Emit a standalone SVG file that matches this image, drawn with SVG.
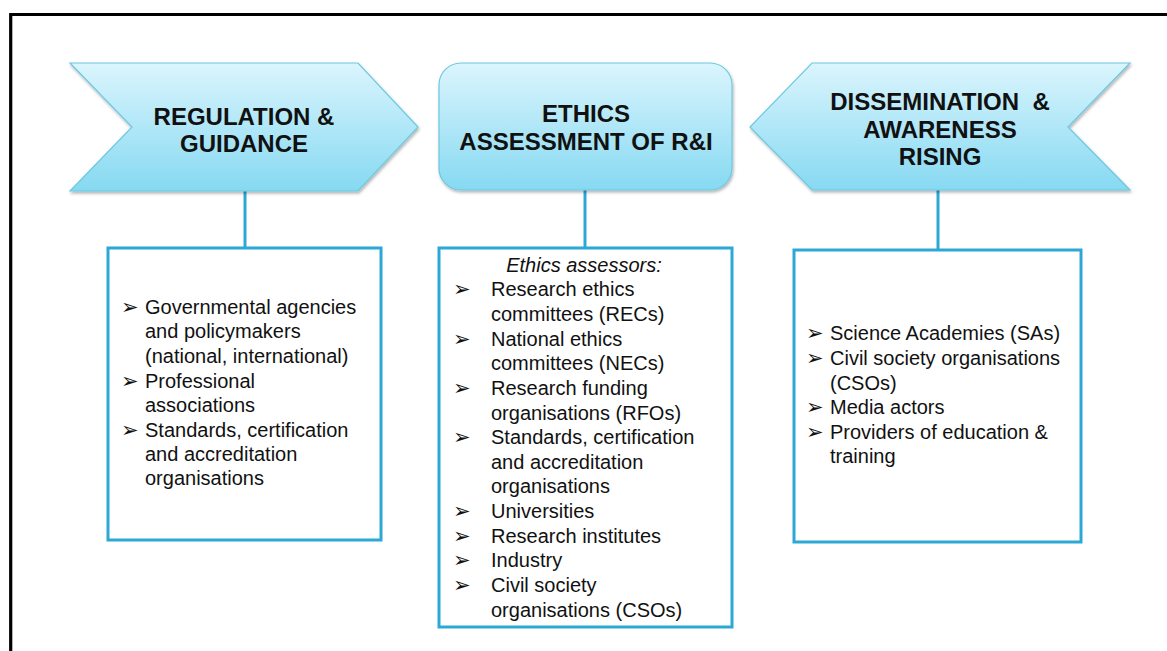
<svg xmlns="http://www.w3.org/2000/svg" width="1167" height="651" viewBox="0 0 1167 651">
<defs>
<linearGradient id="g" x1="0" y1="0" x2="0" y2="1">
<stop offset="0" stop-color="#DBF5FD"/>
<stop offset="1" stop-color="#86D9F2"/>
</linearGradient>
<filter id="sh" x="-10%" y="-10%" width="120%" height="130%">
<feDropShadow dx="1" dy="2" stdDeviation="1.5" flood-color="#000" flood-opacity="0.3"/>
</filter>
</defs>
<style>
.hd{fill:url(#g);stroke:#6CC8E0;stroke-width:1.2;filter:url(#sh)}
.bx{fill:#fff;stroke:#2BA8D6;stroke-width:3}
.ln{stroke:#2BA8D6;stroke-width:3;fill:none}
.t{font-family:"Liberation Sans",Arial,sans-serif;font-weight:bold;font-size:24px;fill:#111;text-anchor:middle}
.b{font-family:"Liberation Sans",Arial,sans-serif;font-size:20px;fill:#111}
.i{font-family:"Liberation Sans",Arial,sans-serif;font-size:20px;font-style:italic;fill:#111;text-anchor:middle}
.k{font-family:"DejaVu Sans",sans-serif;font-size:21px;fill:#111}
</style>
<rect width="1167" height="651" fill="#fff"/>
<path d="M10.7 651 V14.5 H1167" fill="none" stroke="#000" stroke-width="3.2"/>
<g id="connectors">
<line class="ln" x1="245" y1="191" x2="245" y2="248"/>
<line class="ln" x1="585" y1="190" x2="585" y2="248"/>
<line class="ln" x1="938" y1="190" x2="938" y2="251"/>
</g>
<g id="regulation">
<path class="hd" d="M70 63 H358 L418 127 L358 191 H70 L132 127 Z"/>
<text class="t" x="244" y="125">REGULATION &amp;</text>
<text class="t" x="244" y="152">GUIDANCE</text>
</g>
<g id="ethics">
<rect class="hd" x="439" y="63" width="293" height="127" rx="22"/>
<text class="t" x="586" y="122">ETHICS</text>
<text class="t" x="586" y="150">ASSESSMENT OF R&amp;I</text>
</g>
<g id="dissemination">
<path class="hd" d="M812 63 H1130 L1068 127 L1130 190 H812 L750 127 Z"/>
<text class="t" x="940" y="110" xml:space="preserve">DISSEMINATION  &amp;</text>
<text class="t" x="940" y="138">AWARENESS</text>
<text class="t" x="940" y="165">RISING</text>
</g>
<g id="regulation-actors">
<rect class="bx" x="108" y="248" width="273" height="292"/>
<text class="k" x="121" y="314">➢</text>
<text class="b" x="145" y="314">Governmental agencies</text>
<text class="b" x="145" y="338">and policymakers</text>
<text class="b" x="145" y="363">(national, international)</text>
<text class="k" x="121" y="388">➢</text>
<text class="b" x="145" y="388">Professional</text>
<text class="b" x="145" y="412">associations</text>
<text class="k" x="121" y="437">➢</text>
<text class="b" x="145" y="437">Standards, certification</text>
<text class="b" x="145" y="461">and accreditation</text>
<text class="b" x="145" y="485">organisations</text>
</g>
<g id="ethics-assessors">
<rect class="bx" x="439" y="248" width="293" height="379"/>
<text class="i" x="584" y="272">Ethics assessors:</text>
<text class="k" x="453" y="296">➢</text>
<text class="b" x="491" y="296">Research ethics</text>
<text class="b" x="491" y="321">committees (RECs)</text>
<text class="k" x="453" y="346">➢</text>
<text class="b" x="491" y="346">National ethics</text>
<text class="b" x="491" y="370">committees (NECs)</text>
<text class="k" x="453" y="395">➢</text>
<text class="b" x="491" y="395">Research funding</text>
<text class="b" x="491" y="420">organisations (RFOs)</text>
<text class="k" x="453" y="444">➢</text>
<text class="b" x="491" y="444">Standards, certification</text>
<text class="b" x="491" y="469">and accreditation</text>
<text class="b" x="491" y="493">organisations</text>
<text class="k" x="453" y="518">➢</text>
<text class="b" x="491" y="518">Universities</text>
<text class="k" x="453" y="543">➢</text>
<text class="b" x="491" y="543">Research institutes</text>
<text class="k" x="453" y="567">➢</text>
<text class="b" x="491" y="567">Industry</text>
<text class="k" x="453" y="592">➢</text>
<text class="b" x="491" y="592">Civil society</text>
<text class="b" x="491" y="617">organisations (CSOs)</text>
</g>
<g id="dissemination-actors">
<rect class="bx" x="794" y="250" width="287" height="292"/>
<text class="k" x="806" y="340">➢</text>
<text class="b" x="830" y="340">Science Academies (SAs)</text>
<text class="k" x="806" y="365">➢</text>
<text class="b" x="830" y="365">Civil society organisations</text>
<text class="b" x="830" y="390">(CSOs)</text>
<text class="k" x="806" y="414">➢</text>
<text class="b" x="830" y="414">Media actors</text>
<text class="k" x="806" y="439">➢</text>
<text class="b" x="830" y="439">Providers of education &amp;</text>
<text class="b" x="830" y="463">training</text>
</g>
</svg>
